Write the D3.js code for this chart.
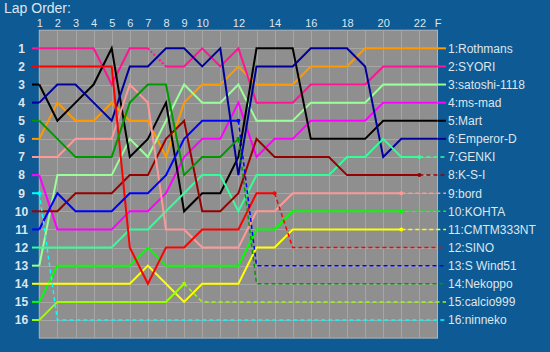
<!DOCTYPE html>
<html>
<head>
<meta charset="utf-8">
<script src="https://cdn.jsdelivr.net/npm/d3@7"></script>
<style>
  html, body { margin: 0; padding: 0; background: #0d5a94; }
  svg { display: block; font-family: "Liberation Sans", Arial, sans-serif; }
</style>
</head>
<body>
<div id="chart"></div>
<script>
// Lap columns: 1..22 plus the finish
const lapLabels = ["1","2","3","4","5","6","7","8","9","10","11","12","13","14","15","16","17","18","19","20","21","22","F"];
const lapTicks = [1, 2, 3, 4, 5, 6, 7, 8, 9, 10, 12, 14, 16, 18, 20, 22, 23];

const names = ["Rothmans","SYORI","satoshi-1118","ms-mad","Mart","Emperor-D","GENKI","K-S-I",
               "bord","KOHTA","CMTM333NT","SINO","S Wind51","Nekoppo","calcio999","ninneko"];
const colors = ["#ff9900","#ff1493","#99ff99","#ff00ff","#000000","#000099","#33ff99","#990000",
                "#ff9999","#00ff00","#ffff00","#ff0000","#0000ff","#009900","#99ff00","#00ffff"];
const finalPos = [1,2,3,4,5,6,7,8,9,10,11,12,13,14,15,16];

// position on each lap (lap 1 first); shorter arrays = lapped or retired
const rothmans  = [6,4,5,5,4,5,5,7,4,3,3,2,3,3,3,2,2,2,1,1,1,1,1];
const syori     = [1,1,1,1,3,1,1,2,2,1,2,1,4,4,4,3,3,3,3,2,2,2,2];
const satoshi   = [13,8,8,8,8,6,7,5,3,4,4,3,5,5,5,4,4,4,4,3,3,3,3];
const msMad     = [8,11,11,11,11,10,10,9,7,6,6,4,7,6,6,5,5,5,5,4,4,4,4];
const mart      = [3,5,4,3,1,7,6,4,10,9,9,7,1,1,1,6,6,6,6,5,5,5,5];
const emperorD  = [4,3,3,4,5,2,2,1,1,2,1,8,2,2,2,1,1,1,2,7,6,6,6];
const genki     = [12,12,12,12,12,11,11,10,9,8,8,10,8,8,8,8,8,7,7,6,7,7];
const ksi       = [10,10,9,9,9,8,8,6,5,10,10,9,6,7,7,7,7,8,8,8,8,8];
const bord      = [7,7,6,6,6,3,4,11,11,12,12,12,10,10,9,9,9,9,9,9,9];
const kohta     = [15,13,13,13,13,13,12,13,13,13,13,13,11,11,10,10,10,10,10,10,10];
const cmtm      = [14,14,14,14,14,14,13,14,15,14,14,14,12,12,11,11,11,11,11,11,11];
const sino      = [2,2,2,2,2,12,14,12,12,11,11,11,9,9];
const sWind     = [11,9,10,10,10,9,9,8,6,5,5,5];
const nekoppo   = [5,6,7,7,7,4,3,3,8,7,7,6];
const calcio    = [16,15,15,15,15,15,15,15,14];
const ninneko   = [9];

const lapData = [rothmans, syori, satoshi, msMad, mart, emperorD, genki, ksi,
                 bord, kohta, cmtm, sino, sWind, nekoppo, calcio, ninneko];

// dotted (pit) segments: [driver index, from lap, to lap]
const dottedSegments = [[1, 7, 8]];

const W = 550, H = 352;
const x = d3.scaleLinear().domain([1, 23]).range([39.3, 437.5]);
const y = d3.scaleLinear().domain([0, 17]).range([30.2, 338.1]);
const labelX = 446;

const svg = d3.select("#chart").append("svg")
    .attr("width", W).attr("height", H);

svg.append("rect").attr("width", W).attr("height", H).attr("fill", "#0d5a94");

// Title
svg.append("text").attr("x", 4).attr("y", 13)
    .style("font-size", "14px").style("fill", "#dde6ee")
    .text("Lap Order:");

// Plot area + grid
svg.append("rect")
    .attr("x", x(1)).attr("y", y(0))
    .attr("width", x(23) - x(1)).attr("height", y(17) - y(0))
    .attr("fill", "#8f8f8f").attr("stroke", "#b4b4b4");

const grid = svg.append("g");
grid.selectAll("line.v").data(d3.range(2, 23)).join("line")
    .attr("x1", d => Math.round(x(d)) + 0.5).attr("x2", d => Math.round(x(d)) + 0.5)
    .attr("y1", y(0)).attr("y2", y(17))
    .attr("stroke", "#a6a6a6");
grid.selectAll("line.h").data(d3.range(1, 17)).join("line")
    .attr("y1", d => Math.round(y(d)) + 0.5).attr("y2", d => Math.round(y(d)) + 0.5)
    .attr("x1", x(1)).attr("x2", x(23))
    .attr("stroke", "#a6a6a6");

// Axes
const xAxis = svg.append("g").attr("transform", "translate(0,30)")
    .call(d3.axisTop(x).tickValues(lapTicks).tickSize(0).tickPadding(3)
        .tickFormat(d => lapLabels[d - 1]));
const yAxis = svg.append("g").attr("transform", "translate(21.5,0)")
    .call(d3.axisLeft(y).tickValues(d3.range(1, 17)).tickSize(0).tickPadding(0));

[xAxis, yAxis].forEach(axis => {
    axis.select(".domain").remove();
    axis.selectAll("text")
        .style("font-family", "'Liberation Sans', Arial, sans-serif")
        .style("font-size", "11px")
        .style("fill", "#dde6ee");
});
yAxis.selectAll("text").attr("x", 0).attr("text-anchor", "middle")
    .style("font-size", "12px").style("font-weight", "bold");

// Lines
const line = d3.line().x(d => x(d[0])).y(d => y(d[1]));
const lines = svg.append("g").attr("fill", "none");

lapData.forEach((pos, i) => {
    const color = colors[i];
    const pts = pos.map((p, k) => [k + 1, p]);
    const g = lines.append("g").attr("stroke", color);

    // starting grid stub
    g.append("line")
        .attr("x1", 32).attr("x2", x(1))
        .attr("y1", y(pos[0])).attr("y2", y(pos[0]))
        .attr("stroke-width", 2);

    // split the run into solid and dotted pieces
    const dots = dottedSegments.filter(s => s[0] === i);
    let piece = [pts[0]];
    for (let k = 1; k < pts.length; k++) {
        const dotted = dots.some(s => s[1] === k && s[2] === k + 1);
        if (dotted) {
            if (piece.length > 1) g.append("path").attr("d", line(piece)).attr("stroke-width", 2);
            g.append("path").attr("d", line([pts[k - 1], pts[k]]))
                .attr("stroke-width", 2).attr("stroke-dasharray", "2,2");
            piece = [pts[k]];
        } else {
            piece.push(pts[k]);
        }
    }
    if (piece.length > 1) g.append("path").attr("d", line(piece)).attr("stroke-width", 2);

    const last = pts[pts.length - 1];
    if (pos.length === lapLabels.length) {
        g.append("line")
            .attr("x1", x(23)).attr("x2", labelX)
            .attr("y1", y(last[1])).attr("y2", y(last[1]))
            .attr("stroke-width", 2);
    } else {
        const tail = [[x(last[0]), y(last[1])],
                      [x(last[0] + 1), y(finalPos[i])],
                      [labelX, y(finalPos[i])]];
        g.append("path").attr("d", d3.line()(tail))
            .attr("stroke-width", 1.5).attr("stroke-dasharray", "4,3");
        g.append("circle").attr("cx", x(last[0])).attr("cy", y(last[1]))
            .attr("r", 2).attr("fill", color).attr("stroke", "none");
    }
});

// Finish labels
svg.append("g").selectAll("text").data(names).join("text")
    .attr("x", 448).attr("y", (d, i) => y(finalPos[i]))
    .attr("dy", "0.36em")
    .style("font-size", "12px").style("fill", "#dde6ee")
    .text((d, i) => `${finalPos[i]}:${d}`);
</script>
</body>
</html>
